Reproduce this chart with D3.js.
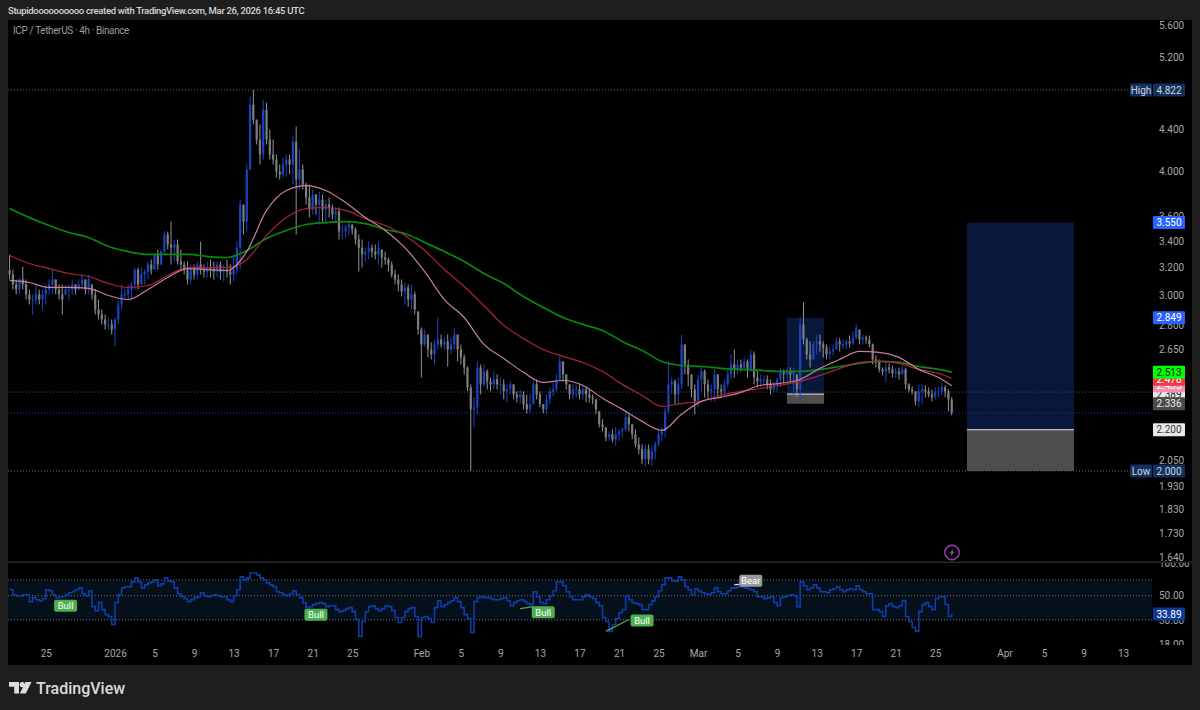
<!DOCTYPE html>
<html>
<head>
<meta charset="utf-8">
<script src="https://cdn.jsdelivr.net/npm/d3@7"></script>
<style>
  html, body { margin: 0; padding: 0; background: #1e1e1e; }
  svg { display: block; }
  text { font-family: Roboto, "Open Sans", sans-serif; }
</style>
</head>
<body>
<svg id="chart"></svg>
<script>
// candles at 8h steps, first one is Dec 21 08:00 UTC
let firstBar = Date.UTC(2025, 11, 21, 8);
let barMs = 8 * 3600 * 1000;

let closes = [
  3.149,3.077,3.042,3.113,3.077,3.007,2.972,2.972,3.007,2.972,3.007,3.042,3.077,3.113,3.042,
  3.007,2.972,3.042,3.042,3.077,3.042,3.077,3.113,3.042,3.113,3.007,2.904,2.871,2.838,2.806,
  2.806,2.773,2.838,2.938,3.007,3.007,3.042,3.077,3.185,3.077,3.149,3.17,3.222,3.185,3.298,
  3.222,3.32,3.454,3.375,3.35,3.375,3.245,3.222,3.185,3.113,3.185,3.149,3.222,3.185,3.17,
  3.2,3.185,3.17,3.222,3.17,3.185,3.17,3.149,3.185,3.35,3.701,3.558,4.013,4.659,4.503,
  4.301,4.155,4.606,4.301,4.155,4.107,3.995,3.967,4.06,4.107,4.06,4.28,3.921,4.013,3.876,
  3.762,3.659,3.788,3.701,3.744,3.659,3.701,3.676,3.617,3.642,3.478,3.478,3.51,3.534,3.494,
  3.414,3.35,3.298,3.32,3.35,3.32,3.298,3.35,3.275,3.26,3.222,3.149,3.113,3.077,3.028,
  3.056,2.972,3.007,2.904,2.773,2.679,2.741,2.648,2.618,2.679,2.71,2.679,2.698,2.648,2.679,
  2.741,2.648,2.6,2.54,2.426,2.306,2.317,2.54,2.443,2.517,2.46,2.443,2.471,2.443,2.443,
  2.404,2.415,2.443,2.387,2.371,2.387,2.333,2.306,2.333,2.443,2.387,2.333,2.306,2.36,2.404,
  2.415,2.471,2.576,2.5,2.443,2.387,2.415,2.415,2.387,2.415,2.387,2.371,2.36,2.306,2.228,
  2.212,2.162,2.177,2.152,2.177,2.192,2.202,2.264,2.228,2.177,2.127,2.103,2.055,2.103,2.055,
  2.093,2.127,2.177,2.192,2.296,2.443,2.46,2.387,2.443,2.679,2.558,2.5,2.415,2.349,2.471,
  2.517,2.443,2.404,2.415,2.5,2.415,2.404,2.443,2.5,2.558,2.529,2.558,2.54,2.576,2.529,
  2.618,2.482,2.46,2.471,2.471,2.443,2.415,2.443,2.471,2.517,2.5,2.517,2.5,2.517,2.415,
  2.806,2.71,2.618,2.588,2.679,2.698,2.679,2.66,2.618,2.636,2.648,2.698,2.679,2.679,2.698,
  2.685,2.722,2.786,2.71,2.722,2.71,2.679,2.588,2.576,2.529,2.517,2.54,2.529,2.506,2.517,
  2.5,2.529,2.443,2.415,2.404,2.349,2.404,2.415,2.404,2.387,2.371,2.404,2.404,2.426,2.404,
  2.36,2.29
];
let highs = [
  3.298,3.185,3.113,3.127,3.207,3.113,3.042,3.007,3.077,3.042,3.042,3.077,3.113,3.185,3.113,
  3.077,3.077,3.077,3.077,3.113,3.077,3.113,3.149,3.113,3.149,3.077,3.042,2.972,2.904,2.871,
  2.851,2.838,2.851,2.972,3.077,3.042,3.077,3.091,3.2,3.2,3.2,3.185,3.245,3.26,3.298,
  3.336,3.336,3.478,3.478,3.558,3.414,3.414,3.336,3.245,3.245,3.222,3.222,3.245,3.398,3.222,
  3.245,3.26,3.245,3.245,3.245,3.222,3.26,3.222,3.298,3.398,3.744,3.701,4.06,4.746,4.822,
  4.503,4.453,4.713,4.681,4.402,4.301,4.155,4.06,4.126,4.155,4.155,4.331,4.432,4.203,4.06,
  3.894,3.876,3.832,3.788,3.814,3.788,3.744,3.762,3.701,3.676,3.676,3.534,3.534,3.558,3.534,
  3.51,3.454,3.414,3.35,3.398,3.375,3.375,3.398,3.336,3.32,3.275,3.245,3.185,3.149,3.113,
  3.091,3.077,3.077,3.028,2.891,2.786,2.773,2.741,2.691,2.71,2.851,2.741,2.722,2.741,2.722,
  2.786,2.741,2.679,2.618,2.546,2.443,2.371,2.576,2.558,2.558,2.529,2.482,2.517,2.5,2.482,
  2.471,2.443,2.46,2.443,2.404,2.415,2.404,2.387,2.387,2.471,2.471,2.404,2.333,2.387,2.426,
  2.454,2.5,2.606,2.576,2.5,2.443,2.443,2.443,2.443,2.443,2.426,2.415,2.387,2.36,2.296,
  2.254,2.212,2.192,2.202,2.212,2.202,2.212,2.29,2.28,2.228,2.202,2.162,2.127,2.127,2.127,
  2.117,2.142,2.202,2.212,2.317,2.576,2.482,2.471,2.482,2.741,2.679,2.588,2.5,2.443,2.5,
  2.546,2.529,2.471,2.443,2.529,2.5,2.443,2.471,2.529,2.618,2.648,2.588,2.588,2.6,2.588,
  2.648,2.636,2.529,2.5,2.494,2.494,2.471,2.46,2.482,2.54,2.529,2.54,2.54,2.54,2.5,
  2.851,2.952,2.722,2.698,2.698,2.741,2.741,2.698,2.679,2.666,2.679,2.722,2.722,2.71,2.71,
  2.735,2.76,2.806,2.773,2.741,2.735,2.735,2.685,2.612,2.588,2.54,2.57,2.564,2.552,2.54,
  2.54,2.552,2.54,2.449,2.432,2.404,2.443,2.443,2.438,2.426,2.415,2.426,2.432,2.449,2.438,
  2.415,2.371
];
let lows = [
  3.113,3.042,3.007,3.007,3.042,2.972,2.938,2.871,2.938,2.938,2.904,2.938,3.007,3.007,3.007,
  2.972,2.871,3.007,2.972,3.007,3.007,3.042,3.042,3.007,3.007,2.972,2.871,2.838,2.806,2.773,
  2.773,2.741,2.666,2.806,2.904,2.972,2.972,2.972,3.042,3.042,3.077,3.077,3.113,3.149,3.185,
  3.185,3.222,3.298,3.336,3.222,3.245,3.222,3.185,3.149,3.077,3.077,3.113,3.113,3.149,3.127,
  3.127,3.127,3.113,3.127,3.113,3.098,3.127,3.077,3.098,3.149,3.185,3.454,3.478,4.013,4.453,
  4.252,4.06,4.107,4.252,4.107,4.06,3.939,3.921,3.939,3.948,3.967,3.876,3.454,3.832,3.832,
  3.701,3.592,3.617,3.617,3.534,3.558,3.534,3.592,3.575,3.558,3.414,3.414,3.43,3.446,3.454,
  3.375,3.17,3.2,3.245,3.26,3.275,3.26,3.222,3.2,3.222,3.17,3.127,3.077,3.028,2.993,
  2.938,2.924,2.904,2.871,2.741,2.482,2.666,2.6,2.588,2.558,2.648,2.66,2.648,2.546,2.618,
  2.648,2.576,2.558,2.5,2.404,2.0,2.212,2.28,2.387,2.432,2.415,2.404,2.415,2.415,2.387,
  2.36,2.344,2.387,2.36,2.344,2.338,2.306,2.285,2.285,2.333,2.36,2.317,2.285,2.285,2.333,
  2.376,2.404,2.46,2.46,2.415,2.36,2.36,2.371,2.36,2.36,2.344,2.344,2.333,2.28,2.212,
  2.192,2.142,2.142,2.137,2.122,2.142,2.162,2.192,2.192,2.152,2.112,2.079,2.031,2.021,2.031,
  2.026,2.055,2.117,2.142,2.162,2.28,2.387,2.333,2.333,2.415,2.5,2.432,2.371,2.28,2.317,
  2.398,2.371,2.36,2.349,2.349,2.371,2.371,2.382,2.426,2.471,2.482,2.5,2.517,2.529,2.482,
  2.517,2.443,2.426,2.426,2.443,2.415,2.387,2.398,2.404,2.426,2.449,2.46,2.46,2.387,2.371,
  2.349,2.679,2.588,2.54,2.588,2.618,2.636,2.6,2.588,2.588,2.612,2.648,2.636,2.648,2.648,
  2.66,2.673,2.71,2.679,2.679,2.685,2.66,2.558,2.54,2.512,2.494,2.454,2.506,2.482,2.482,
  2.471,2.5,2.415,2.398,2.387,2.328,2.317,2.333,2.371,2.371,2.349,2.36,2.371,2.382,2.371,
  2.296,2.275
];

// moving averages, one reading every 6 bars plus the last bar
let maBars = d3.range(0, 287, 6).concat([286]);
let ma200 = [
  3.667,3.591,3.526,3.47,3.43,3.359,3.32,3.298,3.298,3.298,3.283,3.275,3.328,3.422,3.486,3.534,3.55,
  3.558,3.542,3.494,3.462,3.391,3.32,3.245,3.156,3.084,2.993,2.918,2.851,2.806,2.767,2.698,2.642,
  2.576,2.552,2.546,2.535,2.529,2.523,2.517,2.517,2.529,2.546,2.564,2.576,2.57,2.546,2.529,2.513
];
let ma100 = [
  3.29,3.23,3.192,3.156,3.134,3.084,3.056,3.07,3.142,3.2,3.2,3.2,3.26,3.446,3.592,3.667,3.676,
  3.651,3.583,3.526,3.446,3.328,3.185,3.063,2.931,2.8,2.716,2.648,2.606,2.57,2.517,2.443,2.382,
  2.322,2.338,2.349,2.382,2.404,2.42,2.438,2.46,2.494,2.535,2.57,2.576,2.564,2.529,2.506,2.478
];
let ma50 = [
  3.106,3.091,3.056,3.056,3.049,3,2.972,3.042,3.127,3.192,3.185,3.178,3.32,3.651,3.823,3.867,3.823,
  3.718,3.592,3.486,3.35,3.17,2.972,2.851,2.679,2.594,2.512,2.454,2.465,2.438,2.366,2.306,2.243,
  2.197,2.28,2.349,2.371,2.398,2.438,2.449,2.471,2.535,2.588,2.636,2.63,2.6,2.529,2.482,2.435
];

let rsi = [
  56.7,51,50,50,51,51,44.1,48,46,45,47,56.7,55.5,51,48,49,49,51,53.2,54.4,
  56.7,59.1,52.1,50,55.5,39.7,36.5,43.2,37.3,33.5,32.2,27.2,43.2,51,59.1,60.4,60.4,67,73,67,
  59.1,63,65.7,67,70,61.7,64.3,73,68.5,67,59.1,52.1,49,47,44.1,46,48,49,53.2,50,
  49,50,51,50,49,49,46,44.1,50,56.7,74.5,70,73,81,81,77.7,73,70,65.7,63,
  60.4,54.4,53.2,51,50,52.1,55.5,51,48,43.2,38.9,39.7,41.4,42.3,43.2,42.3,39.7,40.5,40.5,37.3,
  35.7,36.5,38.1,38.9,35.7,30.2,21.1,29,35.7,39.7,40.5,38.1,36.5,38.1,40.5,39.7,36.5,31.5,28.4,31.5,
  35.7,38.1,38.9,32.2,21.1,31.5,32.2,30.8,28.4,38.9,45,39.7,41.4,43.2,45,48,44.1,38.9,33.5,30.8,
  23,44.1,48,49,48,48,47,46,46,47,48,45,40.5,43.2,45,46,44.1,42.3,41.4,54.4,
  49,43.2,42.3,46,50,55.5,67,67,61.7,54.4,49,46,46,46,49,51,49,47,43.2,40.5,
  31.5,29,23.5,27.2,30.8,35,37.3,50,46,43.2,42.3,41.4,37.3,37.3,41.4,45,49,55.5,63,73,
  73,68.5,68.5,74.5,70,60.4,56.7,51,57.9,55.5,53.2,52.1,51,53.2,59.1,54.4,52.1,52.1,55.5,59.1,
  59.1,60.4,60.4,59.1,57.9,56.7,54.4,49,49,47,48,49,43.2,40.5,48,49,50,51,50,39.7,
  67,61.7,56.7,59.1,63,59.1,54.4,54.4,53.2,56.7,57.9,60.4,56.7,54.4,56.7,57.9,56.7,61.7,56.7,54.4,
  52.1,52.1,37.3,37.3,35.7,32.2,40.5,42.3,39.7,38.9,40.5,45,32.2,29,25.5,23.5,35.7,41.4,43.2,39.7,
  37.3,47,49,49,41.4,32.2,33.89
];

let priceTicks = [5.6, 5.2, 4.4, 4.0, 3.6, 3.4, 3.2, 3.0, 2.8, 2.65, 2.05, 1.93, 1.83, 1.73, 1.64];
let rsiTicks = [100, 50, 30, 18];
let rsiBands = [70, 50, 30];
let timeTicks = [
  [2025,11,25,"25"],[2026,0,1,"2026"],[2026,0,5,"5"],[2026,0,9,"9"],[2026,0,13,"13"],[2026,0,17,"17"],
  [2026,0,21,"21"],[2026,0,25,"25"],[2026,1,1,"Feb"],[2026,1,5,"5"],[2026,1,9,"9"],[2026,1,13,"13"],
  [2026,1,17,"17"],[2026,1,21,"21"],[2026,1,25,"25"],[2026,2,1,"Mar"],[2026,2,5,"5"],[2026,2,9,"9"],
  [2026,2,13,"13"],[2026,2,17,"17"],[2026,2,21,"21"],[2026,2,25,"25"],[2026,3,1,"Apr"],[2026,3,5,"5"],
  [2026,3,9,"9"],[2026,3,13,"13"]
];
let highPrice = 4.822, lowPrice = 2.0, levelPrice = 2.4, lastPrice = 2.287;

// [entry, target, stop, start, end]
let smallTrade = [2.389, 2.849, 2.336, Date.UTC(2026,2,10,0), Date.UTC(2026,2,13,18)];
let bigTrade = [2.2, 3.55, 2.0, Date.UTC(2026,2,28,5), Date.UTC(2026,3,8,1)];

// [text, bar, rsi]
let signals = [["Bull",17,40.5],["Bull",93,33.5],["Bull",162,35.3],["Bull",192,29.6],["Bear",225,68.5]];
// [bar, rsi, bar, rsi, colour]
let signalLines = [[155,38.1,159,39.7,"#4caf50"],[181,23.5,188,30.2,"#4caf50"],[220,63,222,64,"#e0e0e0"]];
// [text, price shown, y nudge, bg, fg], drawn in this order
let priceTags = [
  ["2.389",2.389,0,"#e8e8e8","#222"],
  ["2.435",2.435,0,"#f48fb1","#fff"],
  ["2.478",2.478,1,"#f23645","#fff"],
  ["2.336",2.336,0,"#4a4a4a","#eee"],
  ["2.513",2.513,0,"#00ff00","#111"],
  ["2.200",2.2,0,"#e8e8e8","#333"],
  ["3.550",3.55,0,"#2962ff","#fff"],
  ["2.849",2.849,0,"#2962ff","#fff"]
];

let w = 1200, h = 710;
let axisX = 1152;
let axisColor = "#a6a8ad";
let blue = "#1a45c0", grey = "#7e7e7e";

let bars = closes.map((c, i) => {
  let prev = i > 0 ? closes[i - 1] : c + 0.03;
  return {
    date: new Date(firstBar + i * barMs),
    close: c,
    open: Math.min(highs[i], Math.max(lows[i], prev)),
    high: highs[i],
    low: lows[i]
  };
});
let barDate = (i) => new Date(firstBar + i * barMs);

let svg = d3.select("#chart").attr("width", w).attr("height", h);

svg.append("rect").attr("width", w).attr("height", h).attr("fill", "#1e1e1e");
svg.append("rect").attr("x", 8).attr("y", 20).attr("width", 1184).attr("height", 645).attr("fill", "#000");
svg.append("rect").attr("x", 8).attr("y", 561.5).attr("width", 1184).attr("height", 1.5).attr("fill", "#2a2a2a");

let xScale = d3.scaleUtc()
  .domain([new Date(Date.UTC(2026, 0, 1)), new Date(Date.UTC(2026, 3, 13))])
  .range([115, 1123]);
let yScale = d3.scaleLog().domain([lowPrice, highPrice]).range([471, 90]);
let rsiScale = d3.scaleLog().domain([18, 100]).range([644, 563]);

let defs = svg.append("defs");
defs.append("clipPath").attr("id", "rsiClip").append("rect")
  .attr("x", 1152).attr("y", 563).attr("width", 40).attr("height", 82);

// dotted price levels
function level(price, x2, colour) {
  svg.append("line").attr("x1", 8).attr("x2", x2)
    .attr("y1", yScale(price)).attr("y2", yScale(price))
    .attr("stroke", colour).attr("stroke-dasharray", "1,2");
}
level(highPrice, 1129, "#6a6a6a");
level(lowPrice, 1129, "#6a6a6a");
level(levelPrice, axisX, "#5a5a5a");
level(lastPrice, axisX, "#1a47b8");

// long position boxes
function tradeBox(t, fill) {
  let x1 = xScale(new Date(t[3])), x2 = xScale(new Date(t[4]));
  svg.append("rect").attr("x", x1).attr("width", x2 - x1)
    .attr("y", yScale(t[1])).attr("height", yScale(t[0]) - yScale(t[1]))
    .attr("fill", fill);
  svg.append("rect").attr("x", x1).attr("width", x2 - x1)
    .attr("y", yScale(t[0])).attr("height", yScale(t[2]) - yScale(t[0]))
    .attr("fill", "#4e4e4e");
  svg.append("line").attr("x1", x1).attr("x2", x2)
    .attr("y1", yScale(t[0])).attr("y2", yScale(t[0]))
    .attr("stroke", "#e6e6e6");
}
tradeBox(smallTrade, "rgba(21,56,140,0.42)");
tradeBox(bigTrade, "rgba(21,56,140,0.42)");

// candles
let candles = svg.append("g").selectAll("g").data(bars).enter().append("g")
  .attr("fill", (d) => d.close >= d.open ? blue : grey);
candles.append("rect")
  .attr("x", (d) => xScale(d.date) - 0.5)
  .attr("width", 1)
  .attr("y", (d) => yScale(d.high))
  .attr("height", (d) => yScale(d.low) - yScale(d.high))
  .attr("fill", (d) => d.close >= d.open ? blue : "#949494");
candles.append("rect")
  .attr("x", (d) => xScale(d.date) - 1.1)
  .attr("width", 2.2)
  .attr("y", (d) => yScale(Math.max(d.open, d.close)))
  .attr("height", (d) => Math.max(1, Math.abs(yScale(d.open) - yScale(d.close))));

// moving averages
let maLine = d3.line()
  .x((d, i) => xScale(barDate(maBars[i])))
  .y((d) => yScale(d))
  .curve(d3.curveMonotoneX);
function drawMa(values, colour, width) {
  svg.append("path").attr("d", maLine(values)).attr("fill", "none")
    .attr("stroke", colour).attr("stroke-width", width);
}
drawMa(ma200, "#078a0c", 1.7);
drawMa(ma100, "#ab2438", 1.2);
drawMa(ma50, "#c97f9a", 1.2);

// price axis
let yAxis = d3.axisRight(yScale).tickValues(priceTicks)
  .tickFormat(d3.format(".3f")).tickSize(0).tickPadding(7);
let yAxisGroup = svg.append("g").attr("transform", `translate(${axisX},0)`).call(yAxis);

// rsi pane
svg.append("rect").attr("x", 8).attr("width", axisX - 8)
  .attr("y", rsiScale(70)).attr("height", rsiScale(30) - rsiScale(70))
  .attr("fill", "#06101a");
svg.selectAll(".rsiBand").data(rsiBands).enter().append("line")
  .attr("x1", 8).attr("x2", axisX)
  .attr("y1", (d) => rsiScale(d)).attr("y2", (d) => rsiScale(d))
  .attr("stroke", "#6c7378").attr("stroke-dasharray", "1,2");

let rsiLine = d3.line()
  .x((d, i) => xScale(barDate(i)))
  .y((d) => rsiScale(d))
  .curve(d3.curveStepAfter);
svg.append("path").attr("d", rsiLine(rsi)).attr("fill", "none")
  .attr("stroke", "#0e3daa").attr("stroke-width", 1.6);

signalLines.forEach((s) => {
  svg.append("line")
    .attr("x1", xScale(barDate(s[0]))).attr("y1", rsiScale(s[1]))
    .attr("x2", xScale(barDate(s[2]))).attr("y2", rsiScale(s[3]))
    .attr("stroke", s[4]).attr("stroke-width", 1.2);
});
signals.forEach((s) => {
  let cx = xScale(barDate(s[1])), cy = rsiScale(s[2]);
  svg.append("rect").attr("x", cx - 11.5).attr("y", cy - 6).attr("width", 23).attr("height", 12)
    .attr("rx", 2).attr("fill", s[0] == "Bull" ? "#4caf50" : "#9a9a9a");
  svg.append("text").attr("x", cx).attr("y", cy + 3.5).attr("text-anchor", "middle")
    .attr("font-size", 9.5).attr("fill", "#fff").text(s[0]);
});

let rsiAxis = d3.axisRight(rsiScale).tickValues(rsiTicks)
  .tickFormat(d3.format(".2f")).tickSize(0).tickPadding(7);
let rsiAxisGroup = svg.append("g").attr("clip-path", "url(#rsiClip)").append("g")
  .attr("transform", `translate(${axisX},0)`).call(rsiAxis);

// time axis
let xAxis = d3.axisBottom(xScale)
  .tickValues(timeTicks.map((t) => new Date(Date.UTC(t[0], t[1], t[2]))))
  .tickFormat((d, i) => timeTicks[i][3]).tickSize(0).tickPadding(0);
let xAxisGroup = svg.append("g").attr("transform", "translate(0,650)").call(xAxis);

[yAxisGroup, rsiAxisGroup, xAxisGroup].forEach((g) => {
  g.select(".domain").remove();
  g.selectAll("text").attr("fill", axisColor).attr("font-size", 10);
  g.style("font-family", null);
});

// price tags on the axis
function tag(label, y, bg, fg, x, width) {
  svg.append("rect").attr("x", x).attr("y", y - 6.5).attr("width", width).attr("height", 13)
    .attr("rx", 1).attr("fill", bg);
  svg.append("text").attr("x", x + width / 2).attr("y", y + 3.6).attr("text-anchor", "middle")
    .attr("font-size", 10).attr("fill", fg).text(label);
}
priceTags.forEach((t) => tag(t[0], yScale(t[1]) + t[2], t[3], t[4], 1153, 32));
tag("33.89", rsiScale(33.89), "#0d3a96", "#fff", 1153, 32);
tag("High", yScale(highPrice), "#14305f", "#d0d4dc", 1130, 22);
tag("4.822", yScale(highPrice), "#14305f", "#d0d4dc", 1153, 32);
tag("Low", yScale(lowPrice), "#14305f", "#d0d4dc", 1130, 22);
tag("2.000", yScale(lowPrice), "#14305f", "#d0d4dc", 1153, 32);

// header texts
svg.append("text").attr("x", 8).attr("y", 14).attr("font-size", 9.5).attr("font-weight", 500)
  .attr("letter-spacing", -0.33)
  .attr("fill", "#d6d6d6").text("Stupidoooooooooo created with TradingView.com, Mar 26, 2026 16:45 UTC");
svg.append("text").attr("x", 13).attr("y", 34).attr("font-size", 10)
  .attr("letter-spacing", -0.38)
  .attr("fill", "#9a9da5").text("ICP / TetherUS · 4h · Binance");

// alert icon
let icon = svg.append("g").attr("transform", "translate(952,552.5)");
icon.append("circle").attr("r", 7.2).attr("fill", "none").attr("stroke", "#9c3fb5").attr("stroke-width", 1.4);
icon.append("path").attr("d", "M1.5,-4.2 L-2.6,0.9 L-0.4,0.9 L-1.5,4.2 L2.6,-1 L0.4,-1 Z").attr("fill", "#9c3fb5");

// footer logo
let logo = svg.append("g").attr("transform", "translate(9,682)").attr("fill", "#dcdcdc");
logo.append("path").attr("d", "M0,0 H10 V11.5 H5.2 V4.8 H0 Z");
logo.append("circle").attr("cx", 13.2).attr("cy", 2.6).attr("r", 2.6);
logo.append("path").attr("d", "M16.5,0 H22.5 L16.8,11.5 H10.8 Z");
svg.append("text").attr("x", 36).attr("y", 694).attr("font-size", 16).attr("font-weight", 500)
  .attr("fill", "#dcdcdc").text("TradingView");
</script>
</body>
</html>
